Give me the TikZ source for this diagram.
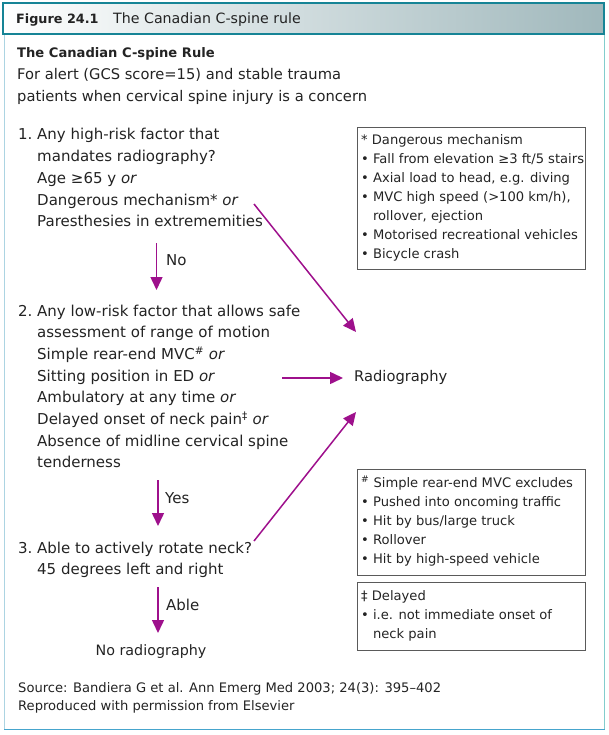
\documentclass[tikz,border=0pt]{standalone}
\usepackage{fontspec}
\setmainfont{DejaVu Sans}
\usetikzlibrary{arrows.meta}
\definecolor{mag}{RGB}{158,16,140}
\definecolor{ink}{RGB}{35,35,35}
\definecolor{hdrline}{RGB}{22,132,150}
\definecolor{hdrright}{RGB}{160,184,188}
\definecolor{frameleft}{RGB}{172,212,226}
\definecolor{frameright}{RGB}{130,205,205}
\definecolor{framebottom}{RGB}{70,165,205}
\definecolor{boxline}{RGB}{90,90,90}
\newcommand\blk[1]{\begin{tabular}[t]{@{}l@{}}#1\end{tabular}}
\newcommand\orr{\textit{or}}
\tikzset{
  txt/.style={anchor=base west, inner sep=0pt, text=ink, font=\fontsize{15}{21.7}\selectfont},
  boxtxt/.style={anchor=base west, inner sep=0pt, text=ink, font=\fontsize{13.1}{19}\selectfont},
  notebox/.style={draw=boxline, line width=0.9pt},
  flow/.style={draw=mag, line width=1.5pt, -{Triangle[length=13pt,width=12pt]}},
}
\begin{document}
\begin{tikzpicture}[x=1pt,y=-1pt]
\useasboundingbox (0,0) rectangle (609,735);
% frame
\draw[frameleft, line width=1.2pt] (4.5,34) -- (4.5,729);
\draw[frameright, line width=1.5pt] (604.5,34) -- (604.5,729);
\draw[framebottom, line width=1.6pt] (4,729.5) -- (605,729.5);
\shade[left color=white, right color=hdrright] (3,3) rectangle (604,34);
\draw[hdrline, line width=2pt] (3,3) rectangle (604,34);
\node[txt, font=\fontsize{12.8}{18}\selectfont] (hdrnum) at (16,24) {\textbf{Figure 24.1}};
\node[txt, font=\fontsize{14.2}{18}\selectfont] (hdr) at (113,24) {The Canadian C-spine rule};
% intro
\node[txt, font=\fontsize{14.7}{21.7}\selectfont] (intro) at (17,58) {\blk{\textbf{\fontsize{13.1}{21.7}\selectfont The Canadian C-spine Rule}\\For alert (GCS score=15) and stable trauma\\patients when cervical spine injury is a concern}};
% step 1
\node[txt] (n1) at (18,140) {1.};
\node[txt] (s1) at (37,140) {\blk{Any high-risk factor that\\mandates radiography?\\Age ≥65 y \orr\\Dangerous mechanism* \orr\\Paresthesies in extrememities}};
% step 2
\node[txt] (n2) at (18,316) {2.};
\node[txt] (s2) at (37,316) {\blk{Any low-risk factor that allows safe\\assessment of range of motion\\Simple rear-end MVC\textsuperscript{\#} \orr\\Sitting position in ED \orr\\Ambulatory at any time \orr\\Delayed onset of neck pain\textsuperscript{‡} \orr\\Absence of midline cervical spine\\tenderness}};
% step 3
\node[txt] (n3) at (18,553) {3.};
\node[txt] (s3) at (37,553) {\blk{Able to actively rotate neck?\\45 degrees left and right}};
\node[txt, anchor=base, font=\fontsize{14.3}{18}\selectfont] (norad) at (151,655) {No radiography};
\node[txt, font=\fontsize{14.7}{18}\selectfont] (rad) at (354,381) {Radiography};
% source
\node[txt, font=\fontsize{13.1}{18.5}\selectfont] (src) at (18,692) {\blk{Source: Bandiera G et al. Ann Emerg Med 2003; 24(3): 395–402\\Reproduced with permission from Elsevier}};
% note boxes
\draw[notebox] (357,127) rectangle (585,269);
\node[boxtxt] (b1) at (361,145) {\blk{* Dangerous mechanism\\• Fall from elevation ≥3 ft/5 stairs\\• Axial load to head, e.g. diving\\• MVC high speed (>100 km/h),\\\phantom{• }rollover, ejection\\• Motorised recreational vehicles\\• Bicycle crash}};
\draw[notebox] (357,469) rectangle (585,575);
\node[boxtxt, font=\fontsize{13.1}{19.2}\selectfont] (b2) at (361,487) {\blk{\textsuperscript{\#} Simple rear-end MVC excludes\\• Pushed into oncoming traffic\\• Hit by bus/large truck\\• Rollover\\• Hit by high-speed vehicle}};
\draw[notebox] (357,582) rectangle (585,650);
\node[boxtxt] (b3) at (361,600) {\blk{‡ Delayed\\• i.e. not immediate onset of\\\phantom{• }neck pain}};
% connector ends
\coordinate (a1s) at (254,204);
\coordinate (a1e) at (356,332);
\coordinate (a2s) at (282,378);
\coordinate (a2e) at (343,378);
\coordinate (a3s) at (254,541);
\coordinate (a3e) at (356,412);
\coordinate (d1s) at (156.5,243);
\coordinate (d1e) at (156.5,290);
\coordinate (d2s) at (158,480);
\coordinate (d2e) at (158,526);
\coordinate (d3s) at (158,587);
\coordinate (d3e) at (158,633);
\draw[flow] (a1s) -- (a1e);
\draw[flow] (a2s) -- (a2e);
\draw[flow] (a3s) -- (a3e);
\draw[flow] (d1s) -- (d1e);
\draw[flow] (d2s) -- (d2e);
\draw[flow] (d3s) -- (d3e);
\node[txt] (lno) at (166,265) {No};
\node[txt] (lyes) at (165,503) {Yes};
\node[txt] (lable) at (166,610) {Able};
\end{tikzpicture}
\end{document}
